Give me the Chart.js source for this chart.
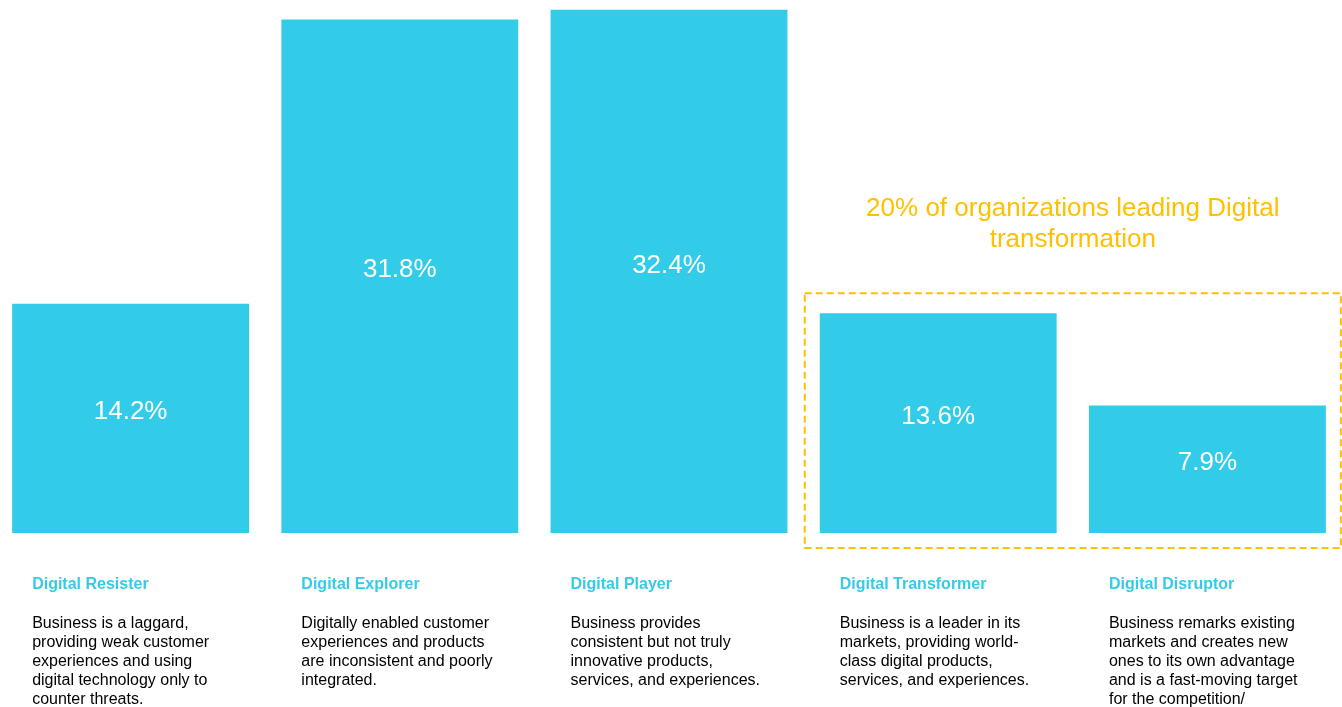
<!DOCTYPE html>
<html>
<head>
<meta charset="utf-8">
<script src="https://cdn.jsdelivr.net/npm/chart.js@4.4.1/dist/chart.umd.min.js"></script>
<style>
  html, body { margin: 0; padding: 0; background: #fff; overflow: hidden; }
  #wrap { position: relative; width: 1342px; height: 707px; }
  #chart { position: absolute; left: -4px; top: 0; }
</style>
</head>
<body>
<div id="wrap"><canvas id="chart" width="1346" height="707"></canvas></div>
<script>
const categories = ['Digital Resister', 'Digital Explorer', 'Digital Player', 'Digital Transformer', 'Digital Disruptor'];
const shares = [14.2, 31.8, 32.4, 13.6, 7.9];
const descriptions = [
    ['Business is a laggard,', 'providing weak customer', 'experiences and using', 'digital technology only to', 'counter threats.'],
    ['Digitally enabled customer', 'experiences and products', 'are inconsistent and poorly', 'integrated.'],
    ['Business provides', 'consistent but not truly', 'innovative products,', 'services, and experiences.'],
    ['Business is a leader in its', 'markets, providing world-', 'class digital products,', 'services, and experiences.'],
    ['Business remarks existing', 'markets and creates new', 'ones to its own advantage', 'and is a fast-moving target', 'for the competition/']
];
const leaderNote = ['20% of organizations leading Digital', 'transformation'];
const leaderIndexes = [3, 4];

const FONT = '"Liberation Sans", Arial, sans-serif';
const CYAN = '#33cce8';
const GOLD = '#ffc000';

// values inside bars, text under bars, dashed box round the leaders
const decorPlugin = {
    id: 'decor',
    afterDatasetsDraw(chart) {
        const ctx = chart.ctx;
        const bars = chart.getDatasetMeta(0).data;
        ctx.save();

        ctx.fillStyle = '#fff';
        ctx.font = '26px ' + FONT;
        ctx.textAlign = 'center';
        ctx.textBaseline = 'middle';
        bars.forEach((bar, i) => {
            ctx.fillText(shares[i].toFixed(1) + '%', bar.x, (bar.y + bar.base) / 2 - 6);
        });

        ctx.textAlign = 'left';
        bars.forEach((bar, i) => {
            const left = bar.x - bar.width / 2 + 20;
            ctx.fillStyle = CYAN;
            ctx.font = 'bold 16px ' + FONT;
            ctx.fillText(categories[i], left, bar.base + 52);
            ctx.fillStyle = '#000';
            ctx.font = '16px ' + FONT;
            descriptions[i].forEach((line, j) => {
                ctx.fillText(line, left, bar.base + 91 + j * 19);
            });
        });

        const a = bars[leaderIndexes[0]];
        const b = bars[leaderIndexes[1]];
        const boxL = a.x - a.width / 2 - 15;
        const boxR = b.x + b.width / 2 + 15;
        const boxT = Math.min(a.y, b.y) - 20;
        const boxB = a.base + 15;
        ctx.strokeStyle = GOLD;
        ctx.lineWidth = 2;
        ctx.setLineDash([7, 4]);
        ctx.strokeRect(boxL, boxT, boxR - boxL, boxB - boxT);
        ctx.setLineDash([]);

        ctx.fillStyle = GOLD;
        ctx.font = '26px ' + FONT;
        ctx.textAlign = 'center';
        leaderNote.forEach((line, j) => {
            ctx.fillText(line, (boxL + boxR) / 2, boxT - 85 + j * 31);
        });
        ctx.restore();
    }
};

new Chart(document.getElementById('chart'), {
    type: 'bar',
    data: {
        labels: categories,
        datasets: [{
            data: shares,
            backgroundColor: CYAN,
            borderWidth: 0,
            categoryPercentage: 1,
            barPercentage: 0.88
        }]
    },
    options: {
        responsive: false,
        animation: false,
        devicePixelRatio: 1,
        layout: { padding: { top: 0, bottom: 174, left: 0, right: 0 } },
        scales: {
            x: { display: false },
            y: { display: false, min: 0, max: 33.0 }
        },
        plugins: {
            legend: { display: false },
            tooltip: { enabled: false }
        }
    },
    plugins: [decorPlugin]
});
</script>
</body>
</html>
